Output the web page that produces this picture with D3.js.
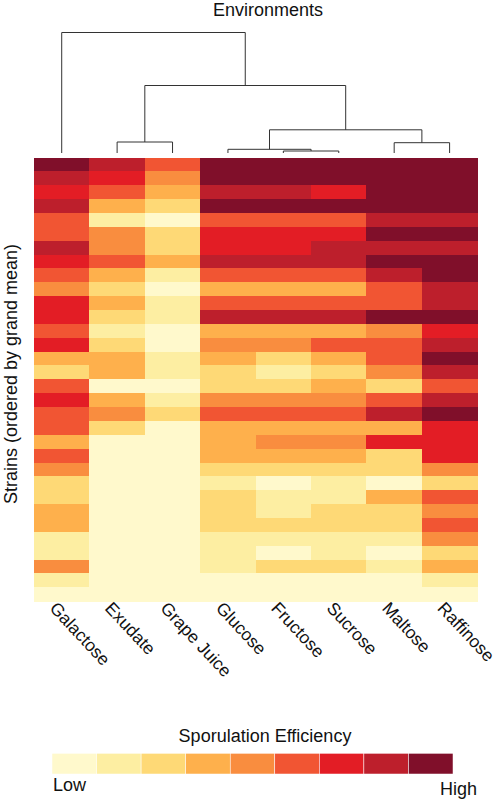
<!DOCTYPE html>
<html><head><meta charset="utf-8">
<script src="https://cdn.jsdelivr.net/npm/d3@7"></script>
<style>html,body{margin:0;padding:0;background:#fff}svg{display:block}text{font-family:"Liberation Sans",Arial,sans-serif;fill:#111}</style>
</head><body><svg id="c" width="500" height="800"></svg>
<script>
const environments = ["Galactose","Exudate","Grape Juice","Glucose","Fructose","Sucrose","Maltose","Raffinose"];
const palette = ["#fff9cc","#fdeea2","#fed976","#feb04c","#f98d3f","#f15533","#e31d25","#bd1f2c","#800f2a"];
const galactose = [9,8,7,8,6,6,8,7,6,5,7,7,6,7,4,3,6,7,6,6,4,6,5,3,3,4,4,2,2,5,2,1];
const exudate   = [8,7,6,4,2,5,5,6,4,3,4,3,2,3,4,4,1,4,5,3,1,1,1,1,1,1,1,1,1,1,1,1];
const grape     = [6,5,4,3,1,3,3,4,2,1,2,2,1,1,2,2,1,2,3,1,1,1,1,1,1,1,1,1,1,1,1,1];
const glucose   = [9,9,8,9,6,7,7,8,6,4,6,8,4,5,4,3,3,5,6,4,4,4,3,2,3,3,3,2,2,2,1,1];
const fructose  = [9,9,8,9,6,7,7,8,6,4,6,8,4,5,3,2,3,5,6,4,5,4,3,1,2,2,3,2,1,3,1,1];
const sucrose   = [9,9,7,9,6,7,8,8,6,4,6,8,4,6,4,3,4,5,6,4,5,4,3,2,2,3,3,2,2,3,1,1];
const maltose   = [9,9,9,9,8,9,8,9,8,6,6,9,5,6,6,5,3,6,8,4,7,3,3,1,4,3,3,2,1,2,1,1];
const raffinose = [9,9,9,9,8,9,8,9,9,8,8,9,7,8,9,8,6,8,9,7,7,7,5,3,6,5,6,5,3,4,2,1];
const columns = [galactose,exudate,grape,glucose,fructose,sucrose,maltose,raffinose];
// dendrogram merges: [left child, right child, height]; children are leaf names or merge indices
const merges = [
  ["Fructose","Sucrose",0.2],
  ["Glucose",0,0.37],
  ["Maltose","Raffinose",1.03],
  [1,2,2.32],
  ["Exudate","Grape Juice",1.1],
  [4,3,6.75],
  ["Galactose",5,12.05]
];
const legendLabels = ["Low","High"];
const rowIds = d3.range(galactose.length);
const levels = d3.range(1,10);

const svg = d3.select("#c");
const x = d3.scaleBand().domain(environments).range([34,477.3]);
const y = d3.scaleBand().domain(rowIds).range([157.5,601.2]);
const color = d3.scaleOrdinal().domain(levels).range(palette);
const hgt = d3.scaleLinear().domain([0,12.05]).range([153,32.5]);

// heat map
const cells = environments.flatMap((e,i)=>columns[i].map((v,r)=>({e,r,v})));
svg.append("g").attr("shape-rendering","crispEdges").selectAll("rect").data(cells).join("rect")
  .attr("x",d=>x(d.e)).attr("y",d=>y(d.r)).attr("width",x.bandwidth()+.3).attr("height",y.bandwidth()+.3)
  .attr("fill",d=>color(d.v));

// dendrogram
const pos = merges.map(()=>null);
const childPos = c => typeof c==="string" ? {x:x(c)+x.bandwidth()/2,h:0} : pos[c];
const dg = svg.append("g").attr("fill","none").attr("stroke","#333").attr("stroke-width",1);
merges.forEach((m,i)=>{
  const a=childPos(m[0]), b=childPos(m[1]), h=m[2];
  dg.append("path").attr("d",`M${a.x},${hgt(a.h)}V${hgt(h)}H${b.x}V${hgt(b.h)}`);
  pos[i]={x:(a.x+b.x)/2,h};
});

// titles
svg.append("text").attr("x",268).attr("y",15.5).attr("text-anchor","middle").attr("font-size",18).text("Environments");
svg.append("text").attr("transform","translate(16.5,374) rotate(-90)").attr("text-anchor","middle").attr("font-size",18).text("Strains (ordered by grand mean)");

// column labels
svg.append("g").selectAll("text").data(environments).join("text")
  .attr("transform",d=>`translate(${x(d)+x.bandwidth()/2-13},${609}) rotate(47)`)
  .attr("font-size",17.5).text(d=>d);

// legend
const lx = d3.scaleBand().domain(levels).range([52,453]);
svg.append("g").selectAll("rect").data(levels).join("rect")
  .attr("x",d=>lx(d)).attr("y",753.3).attr("width",lx.bandwidth()).attr("height",20.7)
  .attr("fill",d=>color(d)).attr("stroke","#fff").attr("stroke-width",.5);
svg.append("text").attr("x",265).attr("y",742).attr("text-anchor","middle").attr("font-size",18).text("Sporulation Efficiency");
svg.append("text").attr("x",53).attr("y",791).attr("font-size",18).text(legendLabels[0]);
svg.append("text").attr("x",477).attr("y",795).attr("text-anchor","end").attr("font-size",18).text(legendLabels[1]);
</script></body></html>
